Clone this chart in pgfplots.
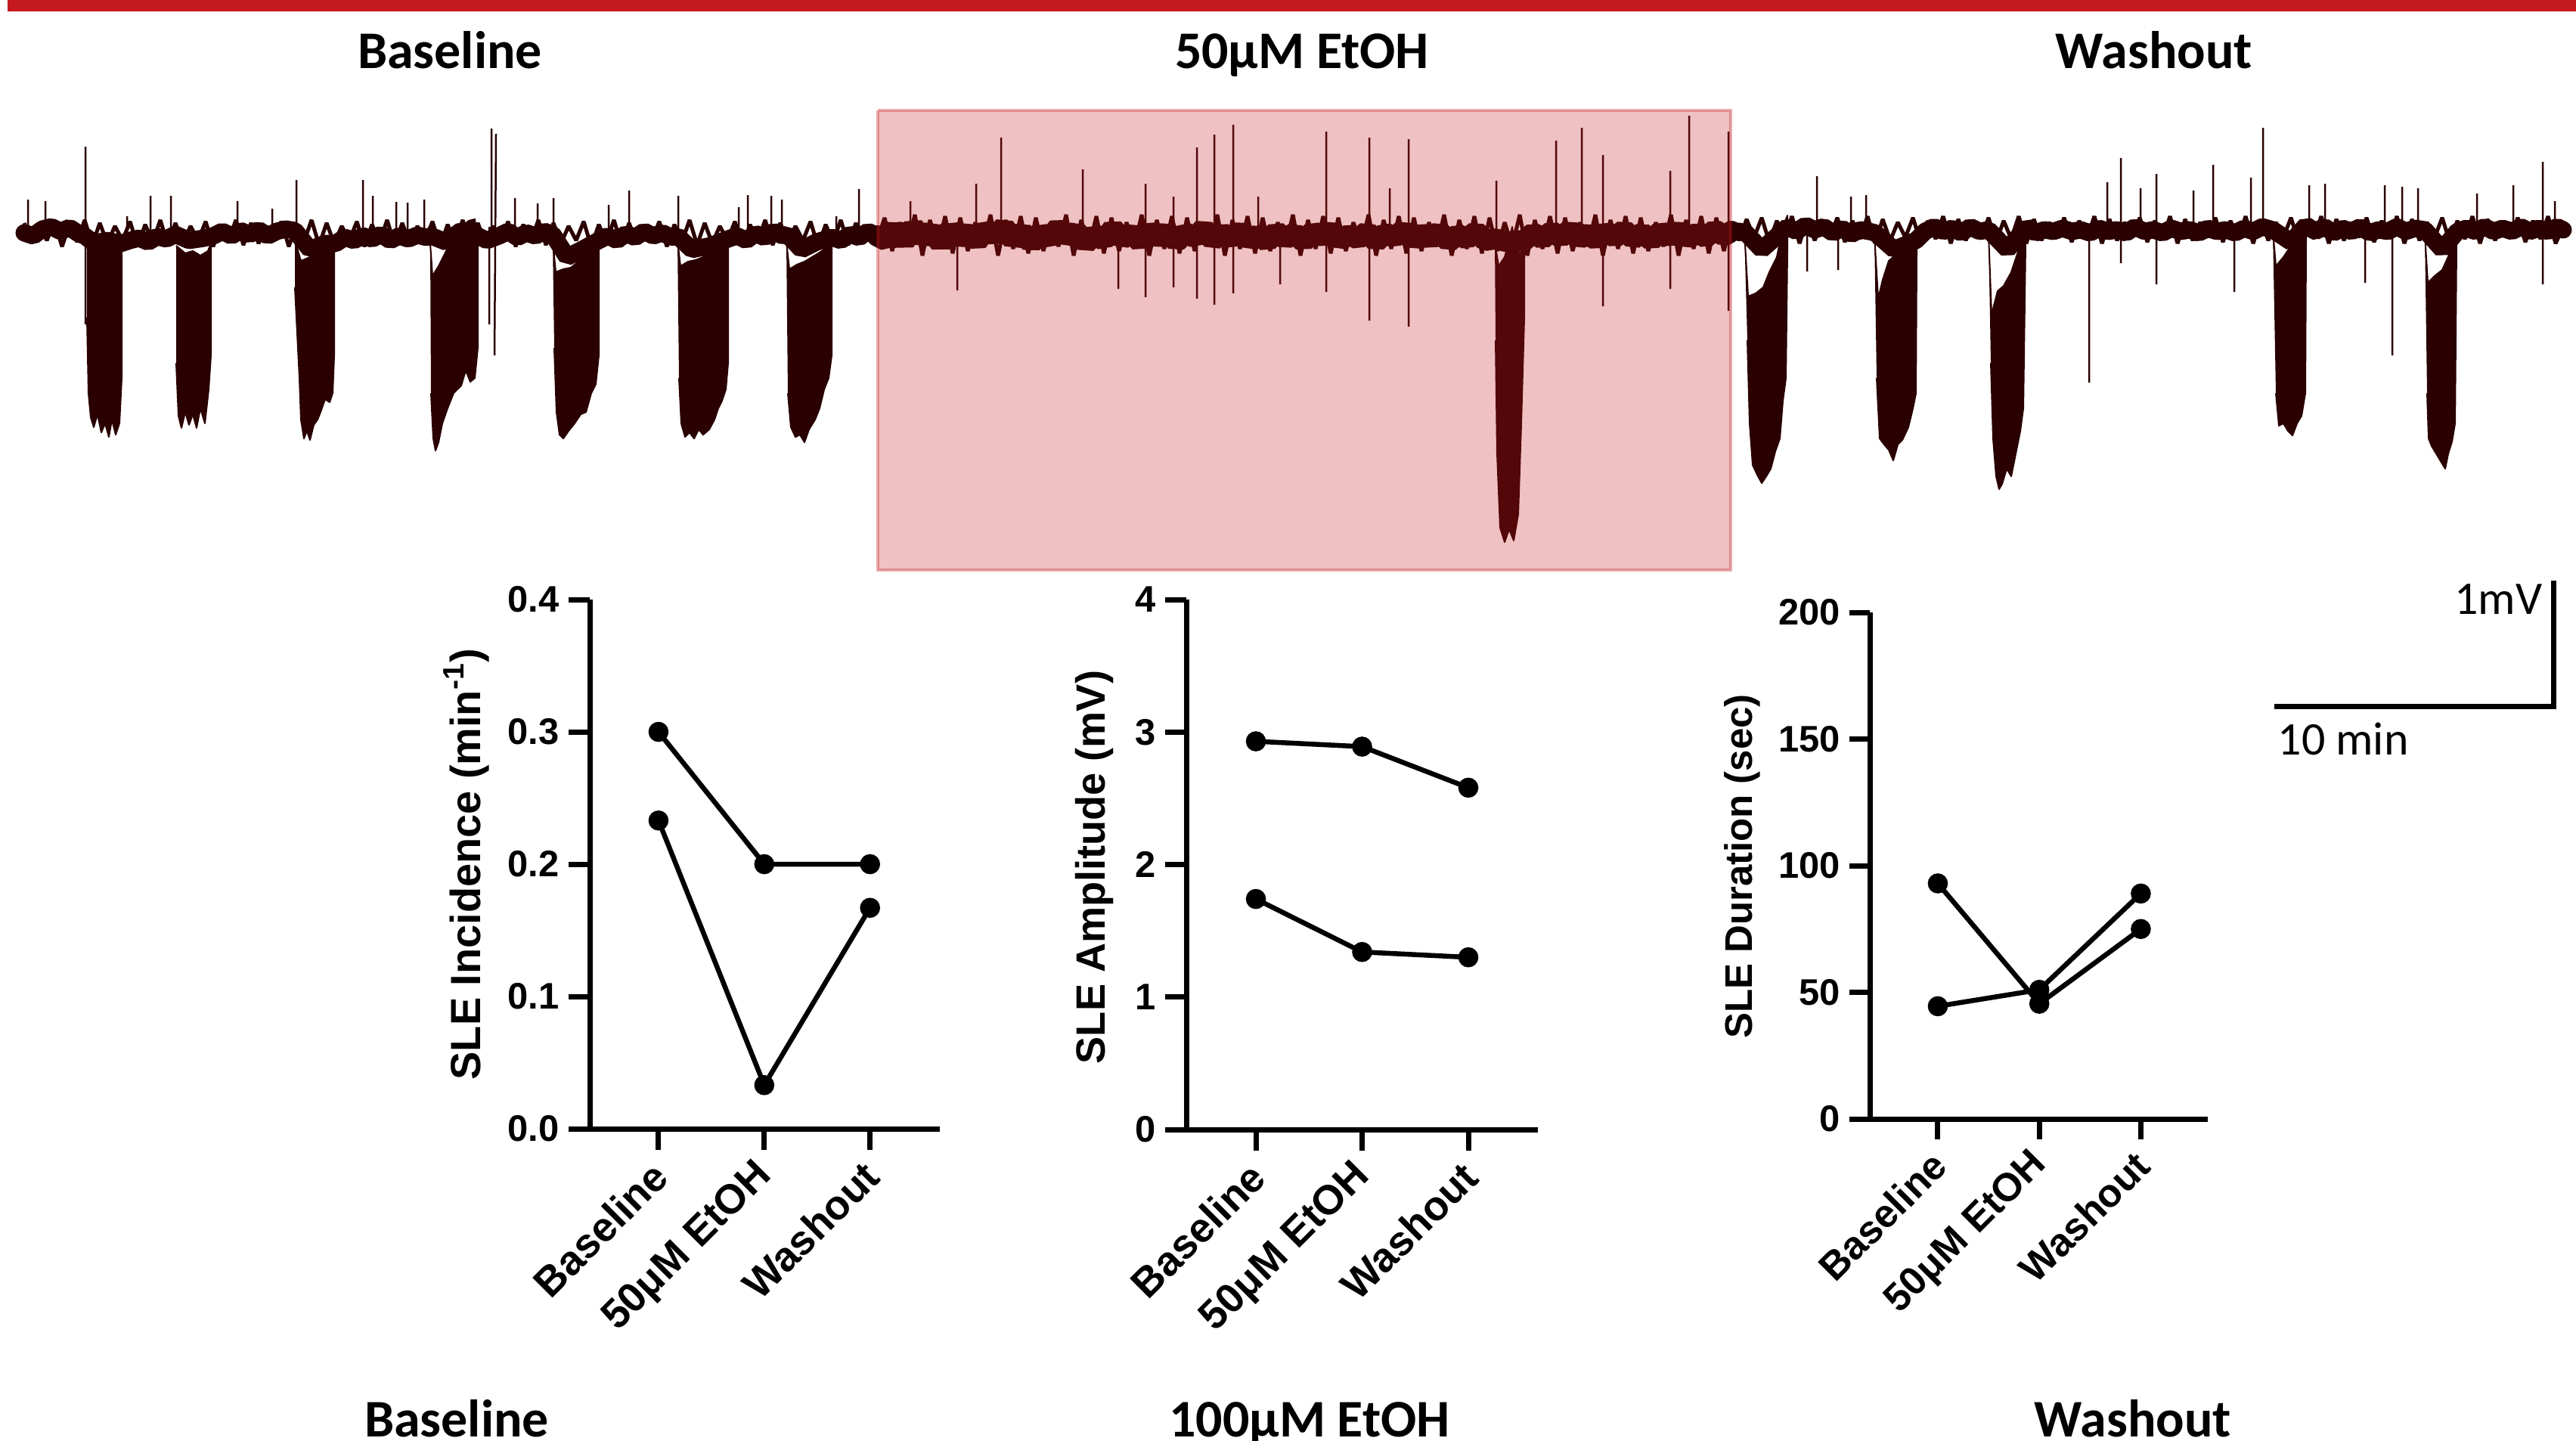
\documentclass[border=0pt]{standalone}
\usepackage{pgfplots}
\pgfplotsset{compat=1.18}
\usepackage{fontspec}
\setmainfont{Liberation Sans}
\newfontfamily\calib{Carlito}
\definecolor{tracecol}{RGB}{42,0,0}
\definecolor{redbar}{RGB}{196,26,30}
\newcommand{\fsz}[1]{\fontsize{#1}{#1}\selectfont}
\pgfplotsset{
  prism/.style={
    scale only axis,
    axis x line=bottom, axis y line=left,
    axis line style={-, line width=0.07cm, black},
    tick style={line width=0.07cm, black},
    tick align=outside,
    major tick length=0.28cm,
    xtick={0,1,2},
    xticklabels={Baseline,50μM EtOH,Washout},
    xticklabel style={xshift=0.11cm, yshift=-0.17cm, rotate=45, anchor=east, font=\bfseries\fsz{15.5pt}},
    yticklabel style={font=\bfseries\fsz{13.9pt}},
    ymin=0, clip=false,
  },
  dl/.style={black, line width=0.065cm, mark=*, mark size=0.1cm, mark options={solid}},
  sle/.style={fill=tracecol, draw=tracecol, line width=0.02cm, line join=round},
  fuzz/.style={tracecol, line width=0.05cm, line join=bevel},
  core/.style={tracecol, line join=bevel, line cap=round},
}
\begin{document}
\begin{tikzpicture}
\begin{axis}[at={(17.035cm,-9.525cm)}, anchor=center, scale only axis,
  width=34.07cm, height=19.05cm, xmin=0, xmax=3407, ymin=0, ymax=1905,
  y dir=reverse, axis lines=none, unbounded coords=jump]
% red bar
\addplot[fill=redbar, draw=none] coordinates {(10,0)(3407,0)(3407,15)(10,15)(10,0)};
% noise envelope of the trace
\addplot[fuzz] coordinates {
(32,295)(42,322)(52,299)(62,318)(72,293)(82,326)(92,297)(102,320)(112,291)(122,324)(132,295)(142,322)(152,299)(162,318)(172,293)(182,326)(192,297)(202,320)(212,291)(222,324)
(232,295)(242,322)(252,299)(262,318)(272,293)(282,326)(292,297)(302,320)(312,291)(322,324)(332,295)(342,322)(352,299)(362,318)(372,293)(382,326)(392,297)(402,320)(412,291)(422,324)
(432,295)(442,322)(452,299)(462,318)(472,293)(482,326)(492,297)(502,320)(512,291)(522,324)(532,295)(542,322)(552,299)(562,318)(572,293)(582,326)(592,297)(602,320)(612,291)(622,324)
(632,295)(642,322)(652,299)(662,318)(672,293)(682,326)(692,297)(702,320)(712,291)(722,324)(732,295)(742,322)(752,299)(762,318)(772,293)(782,326)(792,297)(802,320)(812,291)(822,324)
(832,295)(842,322)(852,299)(862,318)(872,293)(882,326)(892,297)(902,320)(912,291)(922,324)(932,295)(942,322)(952,299)(962,318)(972,293)(982,326)(992,297)(1002,320)(1012,291)(1022,324)
(1032,295)(1042,322)(1052,299)(1062,318)(1072,293)(1082,326)(1092,297)(1102,320)(1112,291)(1122,324)(1132,295)(1142,322)(1152,299)(1160,318)};
\addplot[fuzz] coordinates {
(1160,318)(1170,288)(1180,332)(1190,294)(1200,326)(1210,284)(1220,338)(1230,291)(1240,329)(1250,286)(1260,335)(1270,288)(1280,332)(1290,294)(1300,326)(1310,284)(1320,338)(1330,291)(1340,329)(1350,286)(1360,335)
(1370,288)(1380,332)(1390,294)(1400,326)(1410,284)(1420,338)(1430,291)(1440,329)(1450,286)(1460,335)(1470,288)(1480,332)(1490,294)(1500,326)(1510,284)(1520,338)(1530,291)(1540,329)(1550,286)(1560,335)
(1570,288)(1580,332)(1590,294)(1600,326)(1610,284)(1620,338)(1630,291)(1640,329)(1650,286)(1660,335)(1670,288)(1680,332)(1690,294)(1700,326)(1710,284)(1720,338)(1730,291)(1740,329)(1750,286)(1760,335)
(1770,288)(1780,332)(1790,294)(1800,326)(1810,284)(1820,338)(1830,291)(1840,329)(1850,286)(1860,335)(1870,288)(1880,332)(1890,294)(1900,326)(1910,284)(1920,338)(1930,291)(1940,329)(1950,286)(1960,335)
(1970,288)(1980,332)(1990,294)(2000,326)(2010,284)(2020,338)(2030,291)(2040,329)(2050,286)(2060,335)(2070,288)(2080,332)(2090,294)(2100,326)(2110,284)(2120,338)(2130,291)(2140,329)(2150,286)(2160,335)
(2170,288)(2180,332)(2190,294)(2200,326)(2210,284)(2220,338)(2230,291)(2240,329)(2250,286)(2260,335)(2270,288)(2280,332)(2290,294)};
\addplot[fuzz] coordinates {
(2290,294)(2300,318)(2310,290)(2320,314)(2330,288)(2340,320)(2350,292)(2360,316)(2370,286)(2380,322)(2390,290)(2400,318)(2410,294)(2420,314)(2430,288)(2440,320)(2450,292)(2460,316)(2470,286)(2480,322)
(2490,290)(2500,318)(2510,294)(2520,314)(2530,288)(2540,320)(2550,292)(2560,316)(2570,286)(2580,322)(2590,290)(2600,318)(2610,294)(2620,314)(2630,288)(2640,320)(2650,292)(2660,316)(2670,286)(2680,322)
(2690,290)(2700,318)(2710,294)(2720,314)(2730,288)(2740,320)(2750,292)(2760,316)(2770,286)(2780,322)(2790,290)(2800,318)(2810,294)(2820,314)(2830,288)(2840,320)(2850,292)(2860,316)(2870,286)(2880,322)
(2890,290)(2900,318)(2910,294)(2920,314)(2930,288)(2940,320)(2950,292)(2960,316)(2970,286)(2980,322)(2990,290)(3000,318)(3010,294)(3020,314)(3030,288)(3040,320)(3050,292)(3060,316)(3070,286)(3080,322)
(3090,290)(3100,318)(3110,294)(3120,314)(3130,288)(3140,320)(3150,292)(3160,316)(3170,286)(3180,322)(3190,290)(3200,318)(3210,294)(3220,314)(3230,288)(3240,320)(3250,292)(3260,316)(3270,286)(3280,322)
(3290,290)(3300,318)(3310,294)(3320,314)(3330,288)(3340,320)(3350,292)(3360,316)(3370,286)(3380,322)(3390,300)};
% trace core
\addplot[core, line width=0.23cm] coordinates {
(32,308)(44,312)(56,303)(68,300)(80,306)(92,301)(104,309)(112,312)(125,322)(140,318)(160,322)(172,318)(184,315)(196,320)(208,313)(220,316)(232,310)
(250,318)(270,315)(282,312)(294,306)(306,312)(318,305)(330,310)(342,304)(354,312)(366,306)(378,303)(390,305)
(410,330)(430,322)(444,322)(456,314)(468,318)(480,312)(492,316)(504,310)(516,318)(528,312)(540,316)(552,311)(564,314)(570,312)
(590,320)(610,305)(632,312)(644,318)(660,312)(672,306)(684,314)(696,308)(708,312)(720,306)(731,310)
(750,340)(770,330)(792,318)(804,312)(816,318)(828,309)(840,314)(852,306)(864,312)(876,308)(888,314)(896,312)
(915,330)(940,325)(963,316)(975,312)(987,318)(999,309)(1011,314)(1023,306)(1035,312)(1041,310)
(1060,330)(1080,320)(1100,314)(1112,318)(1124,310)(1136,314)(1148,306)(1160,312)};
\addplot[core, line width=0.28cm] coordinates {
(1160,312)(1172,318)(1184,302)(1196,320)(1208,300)(1220,315)(1232,305)(1244,322)(1256,304)(1268,316)(1280,306)(1292,320)(1304,303)(1316,312)(1328,300)(1340,318)(1352,306)(1364,322)(1376,308)(1388,316)(1400,300)(1412,314)(1424,306)(1436,322)(1448,310)(1460,318)(1472,302)(1484,316)(1496,308)(1508,320)(1520,304)(1532,316)(1544,306)(1556,320)(1568,308)(1580,314)(1592,302)(1604,318)(1616,308)(1628,316)(1640,304)(1652,318)(1664,310)(1676,320)(1688,306)(1700,316)(1712,308)(1724,320)(1736,306)(1748,314)(1760,304)(1772,318)(1784,310)(1796,316)(1808,306)(1820,320)(1832,308)(1844,314)(1856,304)(1868,318)(1880,308)(1892,316)(1904,306)(1916,320)(1928,310)(1940,316)(1952,306)(1964,318)(1976,316)
(1996,320)(2016,318)(2028,308)(2040,316)(2052,306)(2064,314)(2076,304)(2088,316)(2100,308)(2112,318)(2124,306)(2136,314)(2148,304)(2160,316)(2172,308)(2184,318)(2196,306)(2208,314)(2220,304)(2232,316)(2244,308)(2256,314)(2268,304)(2280,312)(2290,306)};
\addplot[core, line width=0.23cm] coordinates {
(2290,306)(2300,306)(2309,308)(2330,330)(2364,300)(2376,306)(2388,298)(2400,304)(2412,300)(2424,308)(2436,302)(2448,310)(2460,304)(2472,306)(2480,308)
(2505,330)(2534,318)(2546,306)(2558,300)(2570,306)(2582,302)(2594,308)(2606,300)(2618,306)(2630,304)
(2655,330)(2680,300)(2692,308)(2704,304)(2716,306)(2728,302)(2740,306)(2752,304)(2764,308)(2776,302)(2788,306)(2800,304)(2812,308)(2824,300)(2836,306)(2848,304)(2860,308)(2872,302)(2884,306)(2896,304)(2908,308)(2920,302)(2932,306)(2944,304)(2956,308)(2968,302)(2980,306)(2992,300)(3006,304)
(3030,320)(3050,298)(3062,306)(3074,300)(3086,308)(3098,302)(3110,306)(3122,300)(3134,308)(3146,304)(3158,306)(3170,300)(3182,306)(3194,302)(3207,304)
(3230,330)(3250,306)(3262,302)(3274,306)(3286,300)(3298,306)(3310,302)(3322,306)(3334,300)(3346,306)(3358,302)(3370,306)(3382,300)(3390,304)};
% seizure-like events (baseline)
\addplot[sle] coordinates {(115,322)(125,330)(135,328)(145,330)(155,328)(161,322)(161,500)(158,560)(153,575)(148,555)(144,578)(139,560)(134,572)(129,548)(124,565)(120,552)(117,520)(115,420)};
\addplot[sle] coordinates {(233,325)(245,335)(255,332)(265,338)(275,332)(279,322)(279,470)(276,515)(271,560)(265,540)(260,566)(255,548)(250,562)(245,545)(240,566)(236,550)(233,480)};
\addplot[sle] coordinates {(390,318)(398,345)(410,340)(420,336)(432,328)(442,320)(442,470)(440,520)(436,532)(430,528)(424,545)(420,555)(415,562)(410,582)(406,570)(402,580)(398,555)(396,500)(393,440)(390,380)};
\addplot[sle] coordinates {(569,322)(572,365)(580,352)(590,332)(600,315)(610,300)(620,292)(628,290)(632,320)(632,460)(628,500)(622,505)(616,490)(610,510)(600,520)(592,540)(585,560)(580,585)(576,596)(573,580)(570,520)};
\addplot[sle] coordinates {(731,318)(735,360)(745,356)(755,354)(765,346)(775,338)(785,332)(792,320)(792,470)(788,508)(782,520)(775,545)(768,548)(760,560)(752,570)(745,580)(740,575)(736,545)(733,460)};
\addplot[sle] coordinates {(896,318)(900,352)(910,346)(920,344)(930,340)(940,334)(950,330)(958,328)(963,318)(963,480)(960,515)(955,530)(950,540)(945,555)(938,568)(930,575)(924,568)(918,580)(912,572)(906,578)(901,560)(898,500)};
\addplot[sle] coordinates {(1040,320)(1044,356)(1054,350)(1064,346)(1074,340)(1084,334)(1092,328)(1100,318)(1100,470)(1096,500)(1090,515)(1084,540)(1078,555)(1070,568)(1064,585)(1058,575)(1052,578)(1046,565)(1042,520)};
% ethanol dip
\addplot[sle] coordinates {(1977,320)(1982,352)(1990,340)(1996,318)(2000,300)(2004,325)(2010,336)(2016,325)(2016,420)(2012,560)(2008,680)(2002,715)(1996,700)(1990,717)(1984,698)(1980,600)(1978,450)};
% washout events
\addplot[sle] coordinates {(2307,305)(2312,392)(2322,388)(2332,380)(2340,360)(2350,340)(2358,300)(2364,285)(2364,330)(2362,500)(2358,530)(2354,580)(2348,597)(2342,620)(2336,630)(2330,639)(2324,628)(2318,615)(2314,560)(2311,450)};
\addplot[sle] coordinates {(2479,310)(2484,395)(2490,370)(2498,345)(2510,335)(2522,332)(2534,320)(2535,330)(2534,520)(2530,540)(2524,565)(2516,582)(2510,588)(2504,609)(2498,595)(2492,588)(2486,580)(2482,500)};
\addplot[sle] coordinates {(2630,310)(2634,416)(2642,385)(2650,378)(2660,360)(2670,330)(2678,295)(2679,320)(2676,540)(2672,570)(2666,600)(2660,630)(2654,620)(2648,640)(2644,647)(2640,630)(2636,580)(2633,480)};
\addplot[sle] coordinates {(3006,305)(3010,352)(3020,340)(3030,325)(3040,315)(3049,300)(3050,310)(3049,520)(3044,550)(3038,560)(3032,576)(3026,570)(3020,560)(3014,563)(3010,520)};
\addplot[sle] coordinates {(3207,310)(3211,374)(3220,365)(3230,357)(3240,335)(3248,315)(3249,320)(3247,560)(3243,584)(3238,600)(3234,620)(3228,610)(3222,600)(3216,590)(3212,580)(3210,520)};
% spikes
\addplot[tracecol, line width=0.025cm] coordinates {
(37,308)(37,264)(nan,nan)(60,306)(60,266)(nan,nan)(113,429)(113,194)(nan,nan)(168,318)(168,286)(nan,nan)(199,318)(199,259)(nan,nan)(226,312)(226,259)(nan,nan)
(314,308)(314,266)(nan,nan)(360,308)(360,276)(nan,nan)(392,320)(392,238)(nan,nan)(480,312)(480,238)(nan,nan)(493,316)(493,259)(nan,nan)(524,314)(524,267)(nan,nan)(539,314)(539,268)(nan,nan)(561,314)(561,264)(nan,nan)
(647,429)(647,300)(nan,nan)(650,312)(650,170)(nan,nan)(654,470)(656,177)(nan,nan)(681,312)(681,262)(nan,nan)(711,310)(711,269)(nan,nan)(732,310)(732,262)(nan,nan)(805,312)(805,271)(nan,nan)(832,310)(832,252)(nan,nan)
(897,312)(897,259)(nan,nan)(977,312)(977,274)(nan,nan)(989,314)(989,258)(nan,nan)(1020,310)(1020,259)(nan,nan)(1034,312)(1034,264)(nan,nan)(1106,316)(1106,286)(nan,nan)(1136,314)(1136,250)(nan,nan)
(1204,310)(1204,266)(nan,nan)(1291,310)(1291,243)(nan,nan)(1324,310)(1324,182)(nan,nan)(1432,310)(1432,224)(nan,nan)(1515,393)(1515,243)(nan,nan)(1552,380)(1552,260)(nan,nan)(1583,395)(1583,195)(nan,nan)
(1606,403)(1606,178)(nan,nan)(1631,388)(1631,165)(nan,nan)(1664,310)(1664,260)(nan,nan)(1754,386)(1754,174)(nan,nan)(1811,424)(1811,182)(nan,nan)(1838,310)(1838,249)(nan,nan)(1863,432)(1863,184)(nan,nan)
(1979,310)(1979,239)(nan,nan)(2058,310)(2058,186)(nan,nan)(2092,310)(2092,169)(nan,nan)(2120,405)(2120,205)(nan,nan)(2209,382)(2209,226)(nan,nan)(2234,310)(2234,153)(nan,nan)(2286,411)(2286,174)(nan,nan)
(1266,310)(1266,384)(nan,nan)(1479,310)(1479,382)(nan,nan)(1693,310)(1693,376)(nan,nan)
(2403,304)(2403,233)(nan,nan)(2448,310)(2448,260)(nan,nan)(2468,306)(2468,258)(nan,nan)(2787,306)(2787,241)(nan,nan)(2805,348)(2805,209)(nan,nan)(2831,306)(2831,249)(nan,nan)(2852,376)(2852,230)(nan,nan)
(2901,304)(2901,252)(nan,nan)(2927,306)(2927,218)(nan,nan)(2977,306)(2977,235)(nan,nan)(2993,306)(2993,169)(nan,nan)(3054,306)(3054,245)(nan,nan)(3075,300)(3075,243)(nan,nan)(3154,306)(3154,245)(nan,nan)
(3177,300)(3177,247)(nan,nan)(3198,304)(3198,249)(nan,nan)(3276,306)(3276,256)(nan,nan)(3324,306)(3324,245)(nan,nan)(3363,376)(3363,214)(nan,nan)(3379,300)(3379,266)(nan,nan)
(2390,300)(2390,359)(nan,nan)(2431,302)(2431,357)(nan,nan)(2763,308)(2763,506)(nan,nan)(2955,308)(2955,386)(nan,nan)(3128,306)(3128,374)(nan,nan)(3164,306)(3164,470)};
% ethanol application window
\addplot[fill=redbar, fill opacity=0.27, draw=redbar, draw opacity=0.35, line width=0.04cm] coordinates {(1161,146)(2289,146)(2289,754)(1161,754)(1161,146)};
% scale bar
\addplot[black, line width=0.07cm] coordinates {(3008,934)(3377,934)(3377,768)};
\end{axis}

% summary plots
\begin{axis}[prism, at={(7.80cm,-14.93cm)}, anchor=south west, width=4.63cm, height=7.00cm,
  xmin=-0.65, xmax=2.66, ymax=0.4, ytick={0,0.1,0.2,0.3,0.4}, yticklabels={0.0,0.1,0.2,0.3,0.4}]
\addplot[dl] coordinates {(0,0.300)(1,0.200)(2,0.200)};
\addplot[dl] coordinates {(0,0.233)(1,0.033)(2,0.167)};
\end{axis}

\begin{axis}[prism, at={(15.69cm,-14.94cm)}, anchor=south west, width=4.65cm, height=7.01cm,
  xmin=-0.655, xmax=2.655, ymax=4, ytick={0,1,2,3,4}, yticklabels={0,1,2,3,4}]
\addplot[dl] coordinates {(0,2.93)(1,2.89)(2,2.58)};
\addplot[dl] coordinates {(0,1.74)(1,1.34)(2,1.30)};
\end{axis}

\begin{axis}[prism, at={(24.73cm,-14.80cm)}, anchor=south west, width=4.47cm, height=6.70cm,
  xmin=-0.67, xmax=2.66, ymax=200, ytick={0,50,100,150,200}, yticklabels={0,50,100,150,200},
  major tick length=0.27cm,
  xticklabel style={font=\bfseries\fsz{14.8pt}}]
\addplot[dl] coordinates {(0,93)(1,45.5)(2,75)};
\addplot[dl] coordinates {(0,44.5)(1,51)(2,89)};
\end{axis}

\node[rotate=90, font=\bfseries\fsz{15.9pt}] at (6.17,-11.43) {SLE Incidence (min\textsuperscript{-1})};
\node[rotate=90, font=\bfseries\fsz{15.4pt}] at (14.47,-11.47) {SLE Amplitude (mV)};
\node[rotate=90, font=\bfseries\fsz{14.5pt}] at (23.04,-11.46) {SLE Duration (sec)};
% titles
\node[font=\calib\bfseries\fsz{19.9pt}, anchor=base] at (5.95,-0.90) {Baseline};
\node[font=\calib\bfseries\fsz{19.9pt}, anchor=base] at (17.22,-0.90) {50μM EtOH};
\node[font=\calib\bfseries\fsz{19.9pt}, anchor=base] at (28.49,-0.90) {Washout};
\node[font=\calib\bfseries\fsz{19.9pt}, anchor=base] at (6.04,-19.00) {Baseline};
\node[font=\calib\bfseries\fsz{19.9pt}, anchor=base] at (17.32,-19.00) {100μM EtOH};
\node[font=\calib\bfseries\fsz{19.9pt}, anchor=base] at (28.21,-19.00) {Washout};
% scale bar labels
\node[font=\calib\fsz{17.6pt}, anchor=base east, inner sep=0pt] at (33.63,-8.12) {1mV};
\node[font=\calib\fsz{17.6pt}, anchor=base west, inner sep=0pt] at (30.12,-9.98) {10 min};

\pgfresetboundingbox
\path[use as bounding box] (0,0) rectangle (34.07,-19.05);
\end{tikzpicture}
\end{document}
